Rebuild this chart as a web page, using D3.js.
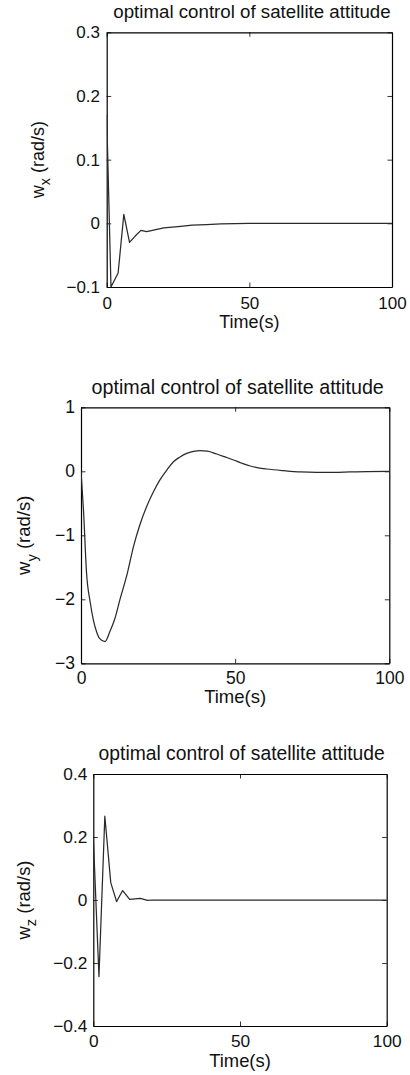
<!DOCTYPE html>
<html>
<head>
<meta charset="utf-8">
<script src="https://cdn.jsdelivr.net/npm/d3@7"></script>
<style>
  html, body { margin: 0; padding: 0; background: #fff; }
  svg { display: block; }
  text { font-family: "Liberation Sans", Arial, Helvetica, sans-serif; fill: #111; }
</style>
</head>
<body>
<svg id="chart" width="410" height="1075"></svg>
<script>
// ---------- data ----------
const titleText = "optimal control of satellite attitude";
const xLabelText = "Time(s)";
const xDomain = [0, 100];
const xTicks = [0, 50, 100];

// Panel 1: w_x
const timeX = [0, 1.5, 4, 6, 8, 10, 12, 14, 16, 18, 20, 25, 30, 35, 40, 50, 60, 80, 100];
const wx    = [0.17, -0.1, -0.078, 0.014, -0.03, -0.02, -0.011, -0.013, -0.011, -0.009, -0.007, -0.005, -0.003, -0.002, -0.001, 0, 0, 0, 0];
const yDomainX = [-0.1, 0.3];
const yTicksX = [-0.1, 0, 0.1, 0.2, 0.3];

// Panel 2: w_y
const timeY = [0, 0.8, 1.8, 3, 4, 5, 6, 7.8, 9.4, 11, 12.6, 15, 17, 19, 21.3, 23.5, 25.6, 28, 30, 32, 34.3, 36.5, 38.6, 41, 44, 46.7, 49.5, 52, 54.9, 57.5, 60.3, 65.7, 71.1, 76.5, 81.9, 87.3, 92.7, 100];
const wy    = [0, -0.6, -1.59, -2.05, -2.32, -2.5, -2.61, -2.66, -2.5, -2.3, -2.01, -1.6, -1.18, -0.85, -0.55, -0.32, -0.135, 0.03, 0.15, 0.22, 0.28, 0.31, 0.323, 0.315, 0.27, 0.225, 0.177, 0.13, 0.083, 0.055, 0.036, 0.01, -0.01, -0.016, -0.016, -0.01, -0.005, 0];
const yDomainY = [-3, 1];
const yTicksY = [-3, -2, -1, 0, 1];

// Panel 3: w_z
const timeZ = [0, 1.93, 3.93, 5.95, 7.95, 10, 12.4, 16, 18.5, 20, 100];
const wz    = [0.2, -0.243, 0.266, 0.055, -0.005, 0.03, 0.002, 0.005, -0.001, 0, 0];
const yDomainZ = [-0.4, 0.4];
const yTicksZ = [-0.4, -0.2, 0, 0.2, 0.4];

const ySubs = ["x", "y", "z"];

// ---------- layout (styles / positions) ----------
const panels = [
  { t: timeX, v: wx, yDom: yDomainX, yTicks: yTicksX, sub: ySubs[0], smooth: false,
    L: 106.7, R: 392, T: 32.3, B: 287,
    titleX: 252, titleY: 18.3, titleSize: 18.7,
    xLabY: 328.3, yLabX: 44, tickSize: 17, labSize: 18, xPad: 9.5, yPad: 6.7 },
  { t: timeY, v: wy, yDom: yDomainY, yTicks: yTicksY, sub: ySubs[1], smooth: true,
    L: 81, R: 389.3, T: 407.3, B: 663.3,
    titleX: 237.7, titleY: 394.3, titleSize: 19.7,
    xLabY: 703.3, yLabX: 30, tickSize: 17.5, labSize: 18.5, xPad: 8.2, yPad: 6 },
  { t: timeZ, v: wz, yDom: yDomainZ, yTicks: yTicksZ, sub: ySubs[2], smooth: false,
    L: 93.3, R: 386.7, T: 774, B: 1026,
    titleX: 241.7, titleY: 760, titleSize: 19.3,
    xLabY: 1067, yLabX: 29.5, tickSize: 17.3, labSize: 18.4, xPad: 9.2, yPad: 6 }
];

const svg = d3.select("#chart");
const fmt = d3.format("~g");

panels.forEach((p, i) => {
  const x = d3.scaleLinear().domain(xDomain).range([p.L, p.R]);
  const y = d3.scaleLinear().domain(p.yDom).range([p.B, p.T]);
  const g = svg.append("g");

  const clipId = "clip" + i;
  svg.append("clipPath").attr("id", clipId)
    .append("rect").attr("x", p.L).attr("y", p.T - 1).attr("width", p.R - p.L).attr("height", p.B - p.T + 2);

  // axes with inward ticks on all four sides
  const tickLen = 4.5;
  const styleAxis = sel => {
    sel.select(".domain").attr("stroke", "#000").attr("stroke-width", 1.2);
    sel.selectAll(".tick line").attr("stroke", "#000").attr("stroke-width", 0.8);
    sel.selectAll(".tick text").attr("font-size", p.tickSize).attr("fill", "#111")
       .style("font-family", '"Liberation Sans", Arial, sans-serif');
  };

  g.append("g").attr("transform", `translate(0,${p.B})`)
    .call(d3.axisBottom(x).tickValues(xTicks).tickSize(-tickLen).tickPadding(p.xPad).tickFormat(fmt).tickSizeOuter(0))
    .call(styleAxis);
  g.append("g").attr("transform", `translate(0,${p.T})`)
    .call(d3.axisTop(x).tickValues(xTicks).tickSize(-tickLen).tickFormat("").tickSizeOuter(0))
    .call(styleAxis);
  g.append("g").attr("transform", `translate(${p.L},0)`)
    .call(d3.axisLeft(y).tickValues(p.yTicks).tickSize(-tickLen).tickPadding(p.yPad).tickFormat(fmt).tickSizeOuter(0))
    .call(styleAxis);
  g.append("g").attr("transform", `translate(${p.R},0)`)
    .call(d3.axisRight(y).tickValues(p.yTicks).tickSize(-tickLen).tickFormat("").tickSizeOuter(0))
    .call(styleAxis);

  // curve
  const pts = p.t.map((t, k) => [t, p.v[k]]);
  g.append("path")
    .datum(pts)
    .attr("clip-path", `url(#${clipId})`)
    .attr("fill", "none")
    .attr("stroke", "#2a2a2a")
    .attr("stroke-width", 1.25)
    .attr("stroke-linejoin", "round")
    .attr("d", d3.line().curve(p.smooth ? d3.curveMonotoneX : d3.curveLinear)
      .x(d => x(d[0])).y(d => y(d[1])));

  // title
  g.append("text")
    .attr("x", p.titleX).attr("y", p.titleY)
    .attr("text-anchor", "middle")
    .attr("font-size", p.titleSize)
    .text(titleText);

  // x label
  g.append("text")
    .attr("x", (p.L + p.R) / 2).attr("y", p.xLabY)
    .attr("text-anchor", "middle")
    .attr("font-size", p.labSize)
    .text(xLabelText);

  // y label with subscript
  const yl = g.append("text")
    .attr("transform", `translate(${p.yLabX},${(p.T + p.B) / 2}) rotate(-90)`)
    .attr("text-anchor", "middle")
    .attr("font-size", p.labSize);
  yl.append("tspan").text("w");
  yl.append("tspan").attr("dy", "0.45em").attr("font-size", p.labSize * 0.8).text(p.sub);
  yl.append("tspan").attr("dy", "-0.36em").text(" (rad/s)");
});
</script>
</body>
</html>
